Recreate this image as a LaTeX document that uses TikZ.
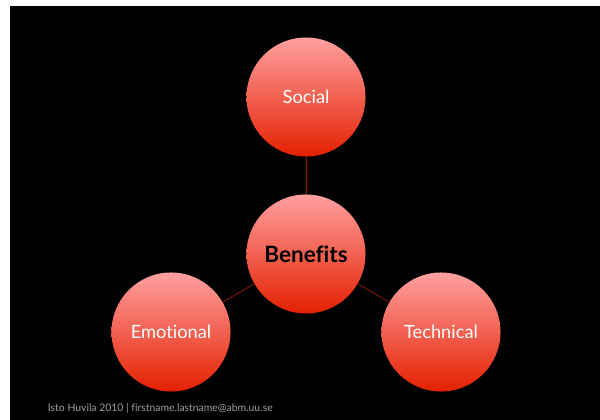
\documentclass[tikz,border=0pt]{standalone}
\usepackage{fontspec}
\setmainfont{Lato}[Ligatures={NoCommon}]
\usepackage{tikz}
\usetikzlibrary{%
  shadings%
}
\definecolor{pinktop}{RGB}{255,160,160}
\definecolor{redbottom}{RGB}{228,32,0}
\definecolor{linkred}{RGB}{140,24,14}
\definecolor{footgray}{RGB}{160,160,160}

\tikzset{
  ball/.style={circle, minimum size=2.975cm, inner sep=0pt,
    top color=pinktop, bottom color=redbottom, text=white,
    font=\fontsize{13}{15}\selectfont},
  link/.style={draw=linkred, line width=0.6pt}
}

\begin{document}
\begin{tikzpicture}[x=0.025cm,y=-0.025cm]
        \useasboundingbox (0,0) rectangle (600,420);
        \fill [white] (0,0) rectangle (600,420);
        \fill [black] (10,6) rectangle (600,420);
        % the four circles
        \node [ball] (social) at (306,97) {Social};
        \node [ball, text=black, font=\fontsize{16}{18}\selectfont\bfseries] (benefits) at (306,254) {Benefits};
        \node [ball] (emotional) at (171,332) {Emotional};
        \node [ball] (technical) at (441,332) {Technical};
        % links to the centre
        \draw [link] (benefits) -- (social);
        \draw [link] (benefits) -- (emotional);
        \draw [link] (benefits) -- (technical);
        \node [anchor=west, text=footgray, font=\fontsize{7.4}{9}\selectfont] (credit) at (43,408)
          {Isto Huvila 2010 | firstname.lastname@abm.uu.se};
      \end{tikzpicture}
\end{document}
